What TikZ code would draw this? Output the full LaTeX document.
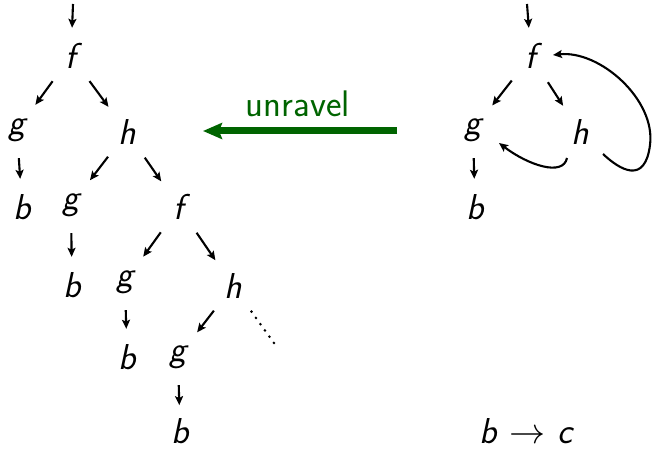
\RequirePackage{fix-cm}
\documentclass[tikz,border=0pt]{standalone}
\usetikzlibrary{arrows.meta,calc}
\definecolor{ugreen}{RGB}{0,100,0}
\begin{document}
\begin{tikzpicture}[x=1pt,y=-1pt,
  lbl/.style={circle,minimum size=56pt,inner sep=0pt,font=\fontsize{36}{42}\selectfont\sffamily\itshape},
  arr/.style={-{Stealth[length=9pt,width=8pt,inset=1.8pt]},line width=2.1pt},
  darr/.style={arr,shorten >=3pt,shorten <=3pt}]
\useasboundingbox (0,0) rectangle (653,449);
% left tree
\coordinate (top1) at (73,4);
\node[lbl] (f1) at (71,56) {f};
\node[lbl] (g1) at (17,130) {g};
\node[lbl] (h1) at (127,132) {h};
\node[lbl] (b1) at (22,207) {b};
\node[lbl] (g2) at (71,205) {g};
\node[lbl] (f2) at (179,207) {f};
\node[lbl] (b2) at (72,285) {b};
\node[lbl] (g3) at (125,282) {g};
\node[lbl] (h2) at (233,286) {h};
\node[lbl] (b3) at (127,357) {b};
\node[lbl] (g4) at (178,357) {g};
\node[lbl,rectangle,minimum size=0pt,inner sep=1pt] (b4) at (180,431) {b};
\coordinate (dots) at (274,343);
\draw[arr] (top1) -- (f1);
\draw[darr] (f1) -- (g1);
\draw[darr] (f1) -- (h1);
\draw[arr] (g1) -- (b1);
\draw[darr] (h1) -- (g2);
\draw[darr] (h1) -- (f2);
\draw[arr] (g2) -- (b2);
\draw[darr] (f2) -- (g3);
\draw[darr] (f2) -- (h2);
\draw[arr] (g3) -- (b3);
\draw[darr] (h2) -- (g4);
\draw[arr,shorten >=12pt] (g4) -- (b4);
\draw[line width=2.9pt,line cap=round,dash pattern=on 0pt off 7.7pt,shorten <=3.4pt] (h2) -- (dots);
% unravel
\coordinate (ua) at (397,131);
\coordinate (ub) at (203,131);
\draw[ugreen,line width=7pt,-{Stealth[length=19pt,width=16pt,inset=3pt]}] (ua) -- (ub);
\node[ugreen,font=\fontsize{37}{43}\selectfont\sffamily] (ul) at (298,104) {unravel};
% right graph
\coordinate (top2) at (527,4);
\node[lbl] (fR) at (531,56) {f};
\node[lbl] (gR) at (473,130) {g};
\node[lbl] (hR) at (580,132) {h};
\node[lbl] (bR) at (475,207) {b};
\draw[arr] (top2) -- (fR);
\draw[darr] (fR) -- (gR);
\draw[darr] (fR) -- (hR);
\draw[arr] (gR) -- (bR);
\draw[arr] ($(hR)+(-13,26)$) .. controls ($(hR)+(-17,45)$) and ($(gR)+(55,35)$) .. ($(gR)+(26,13)$);
\draw[arr] ($(hR)+(23,22)$) .. controls (620,170) and (645,185) .. (650,145)
  .. controls (656,100) and (600,50) .. ($(fR)+(22,-1)$);
\node[inner sep=0pt,font=\fontsize{36}{42}\selectfont\sffamily] (bc) at (527,431) {\textit{b} $\rightarrow$ \textit{c}};
\end{tikzpicture}
\end{document}
